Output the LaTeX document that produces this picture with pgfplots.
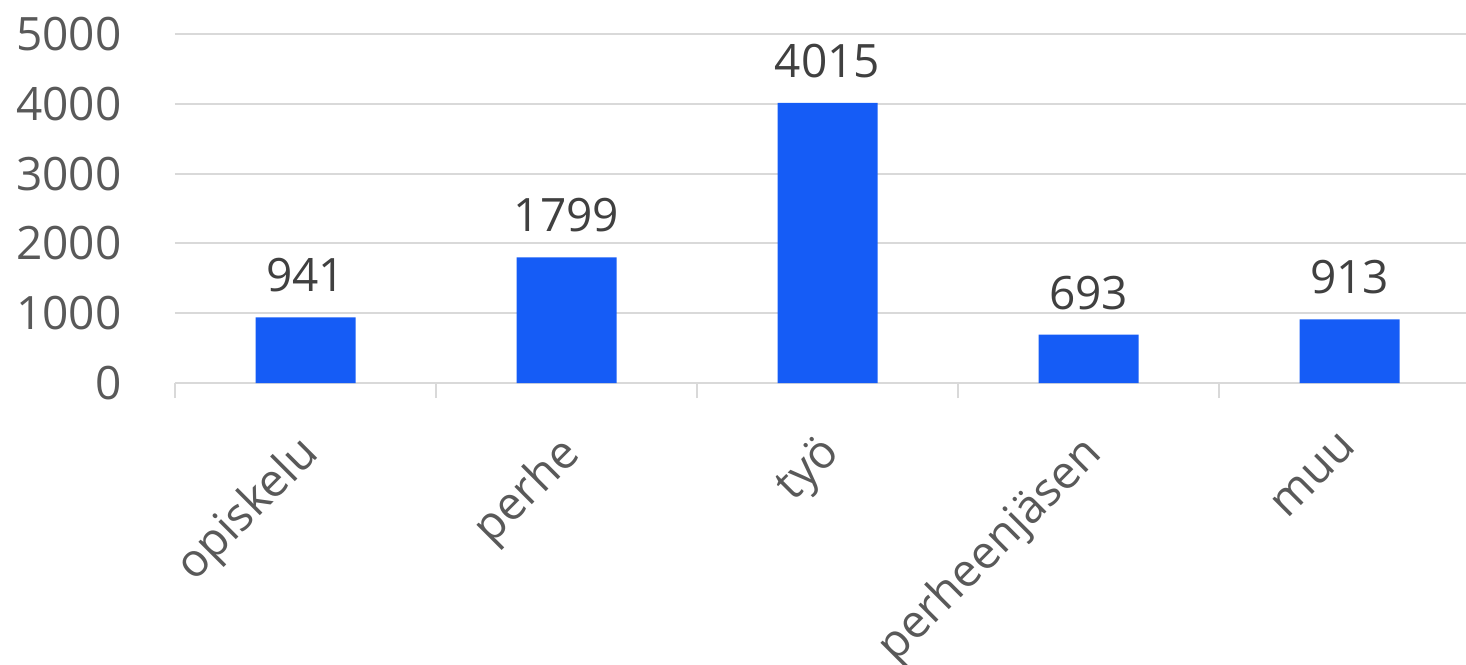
\documentclass[border=0pt]{standalone}
\usepackage{fontspec}
\setmainfont{Open Sans}
\usepackage{pgfplots}
\pgfplotsset{compat=1.18}
\definecolor{barblue}{RGB}{21,92,246}
\definecolor{gridgray}{RGB}{217,217,217}
\definecolor{ticktext}{RGB}{89,89,89}
\definecolor{valtext}{RGB}{64,64,64}
\begin{document}
\begin{tikzpicture}
\useasboundingbox (-87.5pt,-140.5pt) rectangle (645.5pt,191.5pt);
\begin{axis}[
    scale only axis,
    width=645.5pt, height=174.5pt,
    xmin=-0.5, xmax=4.446,
    ymin=0, ymax=5000,
    ytick={0,1000,...,5000},
    xtick={0,1,2,3,4},
    xticklabels={opiskelu,perhe,työ,perheenjäsen,muu},
    minor xtick={-0.5,0.5,1.5,2.5,3.5},
    axis x line*=bottom,
    axis y line*=left,
    y axis line style={draw=none},
    x axis line style={draw=gridgray, line width=1pt},
    ymajorgrids,
    grid style={draw=gridgray, line width=1pt},
    major tick style={draw=none},
    minor tick style={draw=gridgray, line width=1pt},
    minor tick length=7.5pt,
    tick align=outside,
    scaled y ticks=false,
    /pgf/number format/assume math mode=true,
    /pgf/number format/set thousands separator={},
    yticklabel style={font=\fontsize{23}{27}\selectfont, text=ticktext, xshift=-19pt},
    xticklabel style={font=\fontsize{23}{27}\selectfont, text=ticktext, rotate=45, anchor=north east, xshift=-14pt, yshift=-7pt},
    nodes near coords,
    nodes near coords style={font=\fontsize{23}{27}\selectfont, text=valtext, anchor=south, yshift=9pt,
        /pgf/number format/set thousands separator={}},
]
\addplot[ybar, bar width=50pt, fill=barblue, draw=none] coordinates {(0,941) (1,1799) (2,4015) (3,693) (4,913)};
\end{axis}
\end{tikzpicture}
\end{document}
